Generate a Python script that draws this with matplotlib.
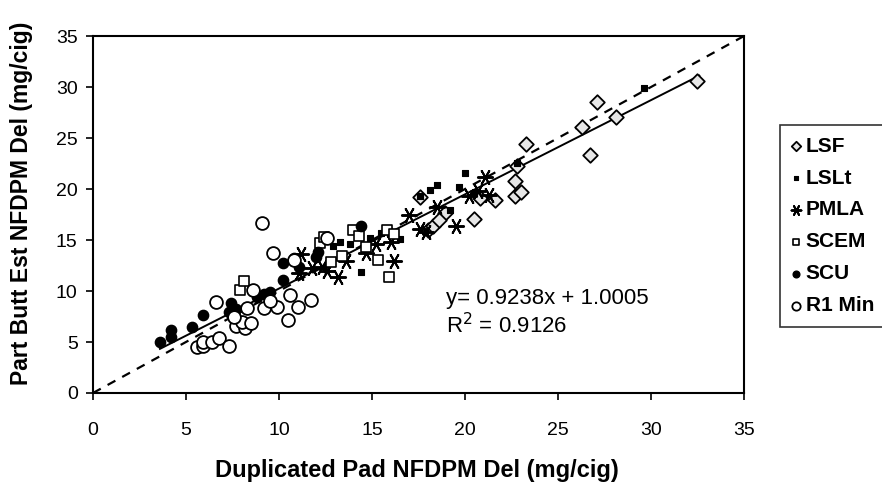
import matplotlib
matplotlib.use("Agg")
import matplotlib.pyplot as plt
import numpy as np

plt.rcParams["font.family"] = ["Liberation Sans", "DejaVu Sans"]

# series (x = duplicated pad, y = part butt estimate)
lsf_x = [17.6, 18.0, 18.3, 18.9, 18.6, 20.5, 20.8, 21.6, 22.7, 23.0, 22.7, 22.8, 23.3, 26.3, 26.7, 27.1, 28.1, 32.5]
lsf_y = [19.2, 16.0, 16.4, 17.6, 17.0, 17.1, 19.1, 18.9, 19.3, 19.7, 20.8, 22.3, 24.4, 26.1, 23.3, 28.5, 27.1, 30.6]

lslt_x = [12.9, 13.3, 13.8, 14.4, 14.9, 15.5, 16.5, 17.6, 18.1, 18.5, 19.2, 19.7, 20.0, 20.5, 22.8, 29.6]
lslt_y = [14.4, 14.8, 14.6, 11.9, 15.2, 15.7, 15.1, 19.3, 19.9, 20.4, 17.9, 20.2, 21.6, 19.6, 22.6, 29.9]

pmla_x = [11.2, 11.1, 11.8, 12.3, 12.6, 13.2, 13.6, 14.7, 15.2, 16.2, 16.0, 17.0, 17.6, 17.9, 18.5, 19.5, 20.2, 20.7, 21.1, 21.3]
pmla_y = [13.6, 11.8, 12.3, 12.4, 12.0, 11.4, 12.9, 13.7, 14.6, 12.9, 14.8, 17.5, 16.1, 15.8, 18.2, 16.4, 19.3, 19.8, 21.2, 19.4]

scem_x = [7.9, 8.1, 12.2, 12.4, 14.0, 14.3, 14.7, 15.3, 15.9, 15.8, 16.2, 12.8, 13.4]
scem_y = [10.1, 11.0, 14.7, 15.3, 16.0, 15.4, 14.3, 13.0, 11.4, 16.0, 15.6, 12.8, 13.4]

scu_x = [3.6, 4.2, 4.2, 5.3, 5.9, 7.3, 7.4, 7.7, 8.8, 9.2, 9.5, 10.2, 10.2, 11.1, 12.0, 12.1, 14.4, 10.8]
scu_y = [5.0, 5.5, 6.2, 6.5, 7.6, 7.9, 8.8, 8.2, 9.4, 9.7, 9.9, 11.1, 12.7, 12.4, 13.3, 13.8, 16.4, 13.2]

r1_x = [5.6, 5.9, 5.9, 6.4, 6.8, 7.3, 6.6, 7.7, 8.2, 8.0, 7.6, 8.5, 8.6, 8.3, 9.2, 9.9, 9.5, 10.6, 11.0, 11.7, 10.5, 9.1, 9.7, 12.6, 10.8]
r1_y = [4.5, 4.6, 5.0, 5.0, 5.4, 4.6, 8.9, 6.6, 6.4, 7.0, 7.5, 6.9, 10.1, 8.3, 8.3, 8.4, 9.0, 9.6, 8.4, 9.1, 7.2, 16.7, 13.7, 15.2, 13.0]

slope, intercept = 0.9238, 1.0005
fit_range = [3.6, 32.6]
ticks = [0, 5, 10, 15, 20, 25, 30, 35]

fig = plt.figure(figsize=(8.82, 4.91), dpi=100)
ax = fig.add_axes([0.1054, 0.1996, 0.7381, 0.727])

# 1:1 reference line and regression line
ax.plot([0, 35], [0, 35], color="black", lw=1.6, ls=(0, (4, 3.5)), zorder=1)
fx = np.array(fit_range)
ax.plot(fx, slope * fx + intercept, color="black", lw=1.4, zorder=2)

ax.scatter(lsf_x, lsf_y, marker="D", s=55, facecolor="#e6e6e6", edgecolor="black", lw=1.3, label="LSF", zorder=3)
ax.scatter(lslt_x, lslt_y, marker="s", s=22, facecolor="black", edgecolor="black", lw=0.8, label="LSLt", zorder=3)
ax.scatter(pmla_x, pmla_y, marker=(6, 2, 90), s=120, color="black", lw=1.4, label="PMLA", zorder=3)
ax.scatter(scem_x, scem_y, marker="s", s=55, facecolor="white", edgecolor="black", lw=1.2, label="SCEM", zorder=3)
ax.scatter(scu_x, scu_y, marker="o", s=55, facecolor="black", edgecolor="black", lw=1, label="SCU", zorder=3)
ax.scatter(r1_x, r1_y, marker="o", s=85, facecolor="white", edgecolor="black", lw=1.3, label="R1 Min", zorder=3)

ax.set_xlim(0, 35)
ax.set_ylim(0, 35)
ax.set_xticks(ticks)
ax.set_yticks(ticks)
ax.tick_params(direction="out", length=5, width=1.2, labelsize=14)
ax.tick_params(axis="x", pad=16)
ax.tick_params(axis="y", pad=6)
for sp in ax.spines.values():
    sp.set_linewidth(1.5)

ax.set_xlabel("Duplicated Pad NFDPM Del (mg/cig)", fontsize=17, fontweight="bold")
ax.set_ylabel("Part Butt Est NFDPM Del (mg/cig)", fontsize=16.5, fontweight="bold")
ax.xaxis.set_label_coords(0.498, -0.185)
ax.yaxis.set_label_coords(-0.092, 0.53)

ax.text(19.0, 9.3, "y= 0.9238x + 1.0005", fontsize=16, va="center")
ax.text(19.0, 6.6, "R$^2$ = 0.9126", fontsize=16, va="center")

leg = fig.legend(loc="upper left", bbox_to_anchor=(0.884, 0.745), bbox_transform=fig.transFigure,
                 frameon=True, fancybox=False, edgecolor="black", markerscale=0.65,
                 handlelength=0.5, handletextpad=0.2, labelspacing=0.62, borderpad=0.55,
                 borderaxespad=0.0, prop={"weight": "bold", "size": 15})
leg.get_frame().set_linewidth(1.2)

fig.savefig("out.png", dpi=100)
